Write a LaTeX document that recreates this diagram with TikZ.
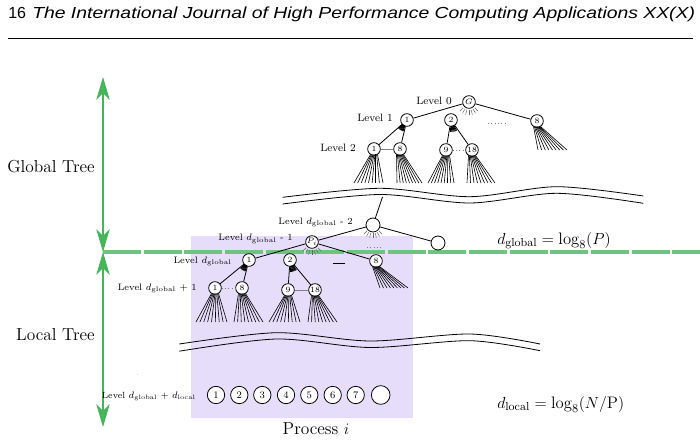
\documentclass[tikz,border=0pt]{standalone}
\usepackage{fontspec}
\newfontfamily\hdr{Liberation Sans}
\usetikzlibrary{arrows.meta,calc}
\definecolor{gline}{RGB}{108,196,126}
\definecolor{garrow}{RGB}{70,180,90}
\definecolor{lav}{RGB}{230,221,250}
\newcommand{\myfan}[4]{%
  \foreach \i in {0,...,8}{%
    \draw[fanline] ($(#1.center)+({-3.5+0.875*\i},5.5)$) -- ($(#1.center)+({#2+(#3-#2)*\i/8},#4)$);
  }}
\newcommand{\myrays}[1]{%
  \foreach \a in {45,60,...,135}{%
    \draw[rayline] ($(#1.center)+(\a:8.2)$) -- ($(#1.center)+(\a:13)$);
  }}
\newcommand{\mywedge}[2]{%
  \foreach \a in {#2}{%
    \draw[wedgeline] ($(#1.center)+(\a:6)$) -- ($(#1.center)+(\a:12)$);
  }}
\begin{document}
\begin{tikzpicture}[x=0.75pt,y=-0.75pt,
  tn/.style={circle,draw,fill=white,inner sep=0pt,minimum size=9.5pt,line width=0.6pt,font=\fontsize{6}{6}\selectfont},
  en/.style={circle,draw,fill=white,inner sep=0pt,minimum size=10.5pt,line width=0.6pt},
  bn/.style={circle,draw,fill=white,inner sep=0pt,minimum size=13pt,line width=0.6pt,font=\fontsize{7.5}{8}\selectfont},
  lvl/.style={anchor=base east,inner sep=0pt,font=\fontsize{8}{9}\selectfont},
  dlvl/.style={anchor=base east,inner sep=0pt,font=\fontsize{7}{8}\selectfont},
  big/.style={inner sep=0pt,font=\fontsize{13}{15}\selectfont},
  edge/.style={line width=0.6pt},
  sib/.style={gray,line width=0.4pt},
  sibdot/.style={gray,line width=0.5pt,dotted},
  fanline/.style={line width=0.45pt},
  rayline/.style={gray!80!black,line width=0.35pt},
  wedgeline/.style={line width=0.7pt},
  garr/.style={garrow,line width=1pt,{Stealth[length=17pt,width=10pt,inset=5pt]}-{Stealth[length=17pt,width=10pt,inset=5pt]}},
  wave/.style={line width=0.6pt}
]
\useasboundingbox (0,0) rectangle (700,442);

% header
\node[anchor=base west,inner sep=0pt,font=\hdr\fontsize{12}{13}\selectfont] (pg) at (8,19) {16};
\node[anchor=base west,inner sep=0pt,font=\hdr\itshape\fontsize{12}{13}\selectfont] (jt) at (32,19) {\scalebox{1.21}[1]{The International Journal of High Performance Computing Applications XX(X)}};
\coordinate (r1) at (8,38);
\coordinate (r2) at (693,38);
\draw[line width=0.7pt] (r1) -- (r2);

% process box
\fill[lav] (191,236) rectangle (413,418);
\node[big,anchor=base] (proc) at (316,434) {Process $i$};

% green axis
\coordinate (gt) at (103,77);
\coordinate (gm) at (103,252);
\coordinate (gb) at (103,427);
\coordinate (gr) at (700,252);
\draw[gline,line width=2.8pt,dash pattern=on 28.5pt off 2pt] (gm) -- (gr);
\draw[garr] (gt) -- (gm);
\draw[garr] (gm) -- (gb);
\node[big,anchor=base east] (gtl) at (95,173) {Global Tree};
\node[big,anchor=base east] (ltl) at (95,340) {Local Tree};

% formulas
\node[anchor=base west,inner sep=0pt,font=\fontsize{12.5}{14}\selectfont] (fg) at (497,244) {$d_{\mathrm{global}} = \log_8(P)$};
\node[anchor=base west,inner sep=0pt,font=\fontsize{12.5}{14}\selectfont] (fl) at (497,408) {$d_{\mathrm{local}} = \log_8(N/\mathrm{P})$};

% ---------------- global tree
\node[tn] (G) at (469,102) {$G$};
\node[tn] (a1) at (407,120) {1};
\node[tn] (a2) at (451,120) {2};
\node[tn] (a8) at (537,121) {8};
\node[tn] (b1) at (374,149) {1};
\node[tn] (b8) at (400,149) {8};
\node[tn] (b9) at (446,150) {9};
\node[tn] (b18) at (472,150) {18};
\draw[edge] (G) -- (a1);
\draw[edge] (G) -- (a8);
\draw[edge] (a1) -- (b1);
\draw[edge] (a1) -- (b8);
\draw[edge] (a2) -- (b9);
\draw[edge] (a2) -- (b18);
\draw[sib] (b1) -- (b8);
\draw[sibdot] (b9) -- (b18);
\coordinate (dA) at (488,123);
\coordinate (dB) at (505,123);
\draw[sibdot] (dA) -- (dB);
\myrays{G}
\mywedge{a1}{110,115,...,135}
\mywedge{a2}{62,68,...,92}
\myfan{b1}{-20}{9}{34}
\myfan{b8}{-3}{22}{34}
\myfan{b9}{-18}{8}{33}
\myfan{b18}{-5}{23}{33}
\myfan{a8}{1}{30}{29}
\node[lvl] (l0) at (452,105) {Level 0};
\node[lvl] (l1) at (393,121.5) {Level 1};
\node[lvl] (l2) at (356,151.5) {Level 2};

% wave 1
\draw[wave] plot[smooth] coordinates {(282.7,197.3) (380,188.3) (470,196.7) (556.7,186.7) (643.3,196)};
\draw[wave] plot[smooth] coordinates {(282.7,204) (380,194.5) (470,203) (556.7,193.3) (643.3,203.3)};

% ---------------- middle tree
\node[en] (m2) at (373,225) {};
\coordinate (mtop) at (382.5,197);
\node[en] (m3) at (438,243) {};
\node[tn] (P) at (312,242) {$P_i$};
\draw[edge] (m2) -- (mtop);
\draw[edge] (m2) -- (P);
\draw[edge] (m2) -- (m3);
\myrays{m2}
\myrays{P}
\coordinate (dC) at (367,247);
\coordinate (dD) at (382,247);
\draw[sibdot] (dC) -- (dD);
\node[tn] (c1) at (249,260) {1};
\node[tn] (c2) at (290,260) {2};
\node[tn] (c8) at (376,261) {8};
\draw[edge] (P) -- (c1);
\draw[edge] (P) -- (c8);
\coordinate (dE) at (333,263.5);
\coordinate (dF) at (345,263.5);
\draw[line width=0.5pt] (dE) -- (dF);
\node[tn] (d1) at (215,288) {1};
\node[tn] (d8) at (242,288) {8};
\node[tn] (d9) at (288,290) {9};
\node[tn] (d18) at (315,290) {18};
\draw[edge] (c1) -- (d1);
\draw[edge] (c1) -- (d8);
\draw[edge] (c2) -- (d9);
\draw[edge] (c2) -- (d18);
\draw[sibdot] (d1) -- (d8);
\draw[sib] (d9) -- (d18);
\mywedge{c1}{110,115,...,135}
\mywedge{c2}{58,64,...,88}
\myfan{d1}{-19}{12}{34}
\myfan{d8}{-8}{21}{34}
\myfan{d9}{-19}{12}{32}
\myfan{d18}{-7}{22}{32}
\myfan{c8}{4}{32}{27}
\node[dlvl] (lm2) at (353,224) {Level $d_{\mathrm{global}}$ - 2};
\node[dlvl] (lm1) at (293,240.7) {Level $d_{\mathrm{global}}$ - 1};
\node[dlvl] (lg) at (232,263.5) {Level $d_{\mathrm{global}}$};
\node[dlvl] (lg1) at (197,290) {Level $d_{\mathrm{global}}$ + 1};

% wave 2
\draw[wave] plot[smooth] coordinates {(179.3,344) (276.7,332.7) (370,341) (470,334) (540,344)};
\draw[wave] plot[smooth] coordinates {(179.3,351.2) (276.7,339) (370,347.5) (470,340.7) (540,350.7)};

% ---------------- leaves
\node[bn] (e1) at (216,395) {1};
\node[bn] (e2) at (239.3,395) {2};
\node[bn] (e3) at (262.3,395) {3};
\node[bn] (e4) at (286,395) {4};
\node[bn] (e5) at (309.3,395) {5};
\node[bn] (e6) at (332.7,395) {6};
\node[bn] (e7) at (355.7,395) {7};
\node[bn,minimum size=14pt] (e8) at (380.7,395) {};
\node[dlvl,font=\fontsize{6.7}{8}\selectfont] (ll) at (196,398) {Level $d_{\mathrm{global}}$ + $d_{\mathrm{local}}$};
\node[inner sep=0pt,text=gray,font=\fontsize{5}{5}\selectfont] (dot) at (138,375) {.};
\end{tikzpicture}
\end{document}
